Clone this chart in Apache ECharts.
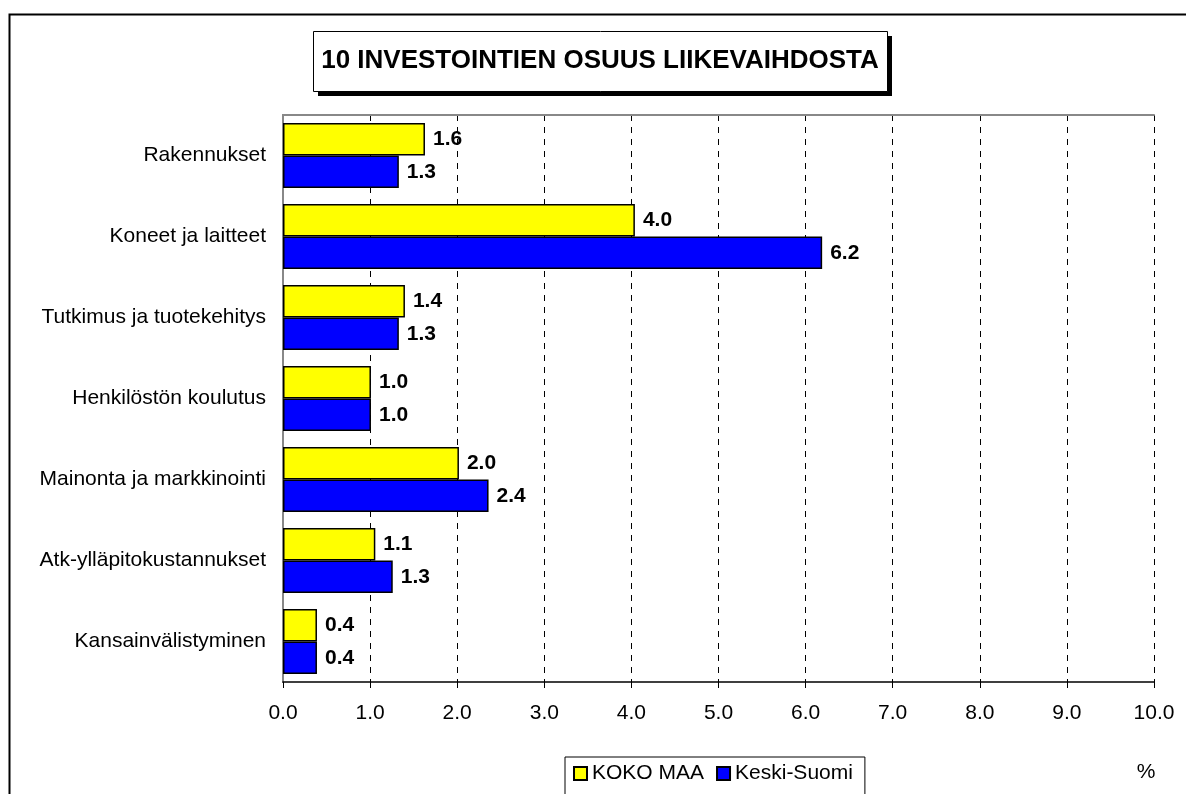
<!DOCTYPE html>
<html>
<head>
<meta charset="utf-8">
<script src="https://cdn.jsdelivr.net/npm/echarts@6/dist/echarts.min.js"></script>
<style>
html,body{margin:0;padding:0;background:#fff;}
#chart{width:1186px;height:794px;}
</style>
</head>
<body>
<div id="chart"></div>
<script>
const titleText = '10 INVESTOINTIEN OSUUS LIIKEVAIHDOSTA';
const categories = ['Rakennukset','Koneet ja laitteet','Tutkimus ja tuotekehitys','Henkilöstön koulutus','Mainonta ja markkinointi','Atk-ylläpitokustannukset','Kansainvälistyminen'];
const seriesNames = ['KOKO MAA','Keski-Suomi'];
const kokoMaa = [1.63, 4.04, 1.40, 1.01, 2.02, 1.06, 0.39];
const keskiSuomi = [1.33, 6.19, 1.33, 1.01, 2.36, 1.26, 0.39];
const xTicks = {min: 0, max: 10, interval: 1};
const unitLabel = '%';

const FONT = 'Liberation Sans, Arial, sans-serif';
const chart = echarts.init(document.getElementById('chart'), null, {renderer: 'canvas'});

const labelCfg = {
  show: true, position: 'right', distance: 8,
  fontFamily: FONT, fontSize: 21, fontWeight: 'bold', color: '#000',
  formatter: p => p.value.toFixed(1)
};

chart.setOption({
  backgroundColor: '#fff',
  animation: false,
  grid: {left: 283, right: 32, top: 115, bottom: 112, containLabel: false},
  xAxis: [{
    type: 'value', min: xTicks.min, max: xTicks.max, interval: xTicks.interval,
    position: 'bottom',
    axisLine: {show: true, lineStyle: {color: '#000', width: 1.5}},
    axisTick: {show: true, length: 6, lineStyle: {color: '#000', width: 1}},
    axisLabel: {fontFamily: FONT, fontSize: 21, color: '#000', margin: 21,
      formatter: v => v.toFixed(1)},
    splitLine: {show: true, lineStyle: {color: '#000', width: 1, type: [6, 6]}}
  }, {
    type: 'value', min: xTicks.min, max: xTicks.max, interval: xTicks.interval,
    position: 'top',
    axisLine: {show: true, lineStyle: {color: '#888', width: 2}},
    axisTick: {show: false}, axisLabel: {show: false}, splitLine: {show: false}
  }],
  yAxis: [{
    type: 'category', data: categories, inverse: true,
    axisLine: {show: true, lineStyle: {color: '#000', width: 1.5}},
    axisTick: {show: false},
    axisLabel: {fontFamily: FONT, fontSize: 21, color: '#000', margin: 17},
    splitLine: {show: false}
  }, {
    type: 'category', data: categories, inverse: true, position: 'right',
    axisLine: {show: true, lineStyle: {color: '#888', width: 2}},
    axisTick: {show: false}, axisLabel: {show: false}, splitLine: {show: false}
  }],
  legend: {
    left: 565, top: 757,
    data: seriesNames,
    icon: 'rect', itemWidth: 13, itemHeight: 13, itemGap: 12,
    padding: [6, 12, 20, 8],
    borderColor: '#000', borderWidth: 1,
    textStyle: {fontFamily: FONT, fontSize: 21, color: '#000', padding: [0, 0, 0, 0]},
    selectedMode: false
  },
  series: [{
    name: seriesNames[0], type: 'bar', data: kokoMaa,
    barWidth: 32.5, barGap: '0%',
    itemStyle: {color: '#ffff00', borderColor: '#000', borderWidth: 1.5},
    label: labelCfg
  }, {
    name: seriesNames[1], type: 'bar', data: keskiSuomi,
    barWidth: 32.5, barGap: '0%',
    itemStyle: {color: '#0000ff', borderColor: '#000', borderWidth: 1.5},
    label: labelCfg
  }],
  graphic: [
    {type: 'rect', left: 7, top: 12, z: -10, silent: true,
      shape: {width: 1300, height: 900},
      style: {fill: 'none', stroke: '#000', lineWidth: 2}},
    {type: 'rect', left: 318, top: 36, z: 9, silent: true,
      shape: {width: 574, height: 60},
      style: {fill: '#000', stroke: null}},
    {type: 'rect', left: 313, top: 31, z: 10, silent: true,
      shape: {width: 574, height: 60},
      style: {fill: '#fff', stroke: '#000', lineWidth: 1}},
    {type: 'text', x: 600, y: 61, z: 11, silent: true,
      style: {text: titleText, fontFamily: FONT, fontSize: 26, fontWeight: 'bold',
        fill: '#000', align: 'center', verticalAlign: 'middle'}},
    {type: 'text', x: 1146, y: 772, z: 11, silent: true,
      style: {text: unitLabel, fontFamily: FONT, fontSize: 21, fill: '#000',
        align: 'center', verticalAlign: 'middle'}}
  ]
});
</script>
</body>
</html>
